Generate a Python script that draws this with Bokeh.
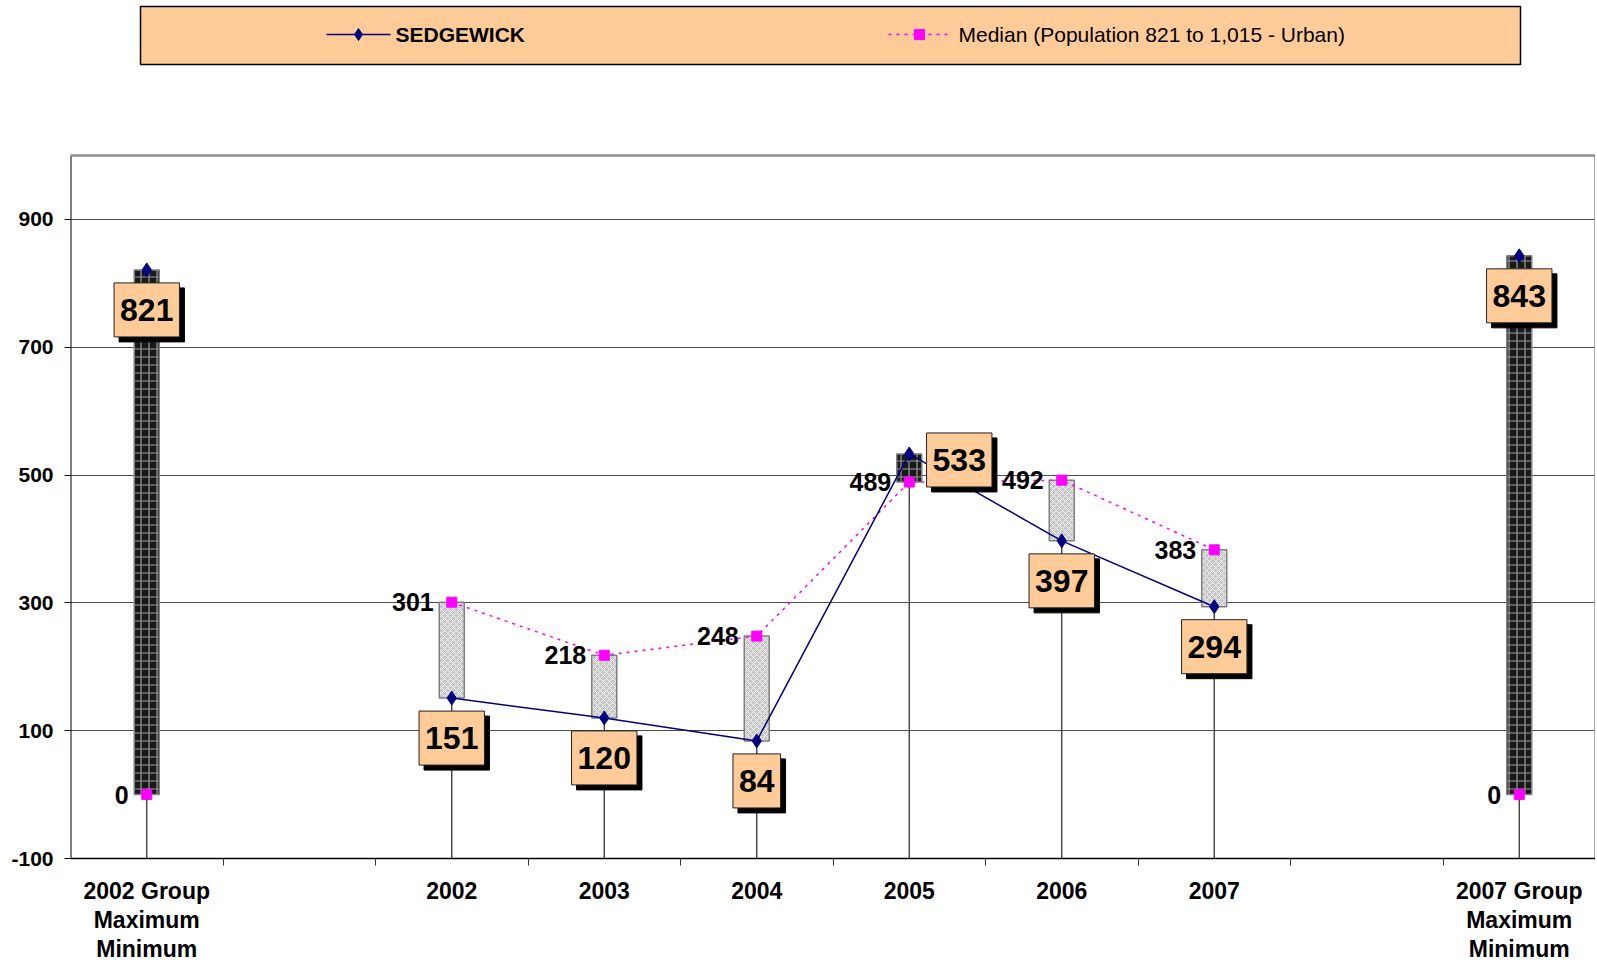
from bokeh.plotting import figure
from bokeh.models import FixedTicker, LinearAxis, Range1d, ColumnDataSource
from bokeh.core.properties import value
from bokeh.embed import file_html
from bokeh.resources import INLINE

# ---------------- data ----------------
categories = ["2002 Group\nMaximum\nMinimum", "", "2002", "2003", "2004", "2005",
              "2006", "2007", "", "2007 Group\nMaximum\nMinimum"]
sedgewick = [821, None, 151, 120, 84, 533, 397, 294, None, 843]
median = [0, None, 301, 218, 248, 489, 492, 383, None, 0]
y_ticks = [-100, 100, 300, 500, 700, 900]
legend_labels = ["SEDGEWICK", "Median (Population 821 to 1,015 - Urban)"]

# ---------------- style / layout ----------------
FONT = "Liberation Sans"
NAVY = "#000080"
MAGENTA = "#FF00FF"
ORANGE = "#FFCC99"
W, H = 1595, 966
BL, BB = 70, 108
Y0, YTOP_AXIS = -100, 1000
frame_h = H - BB
PX_PER_UNIT = (frame_h - 155) / (YTOP_AXIS - Y0)
y_top = Y0 + frame_h / PX_PER_UNIT
frame_w = W - BL
px_per_cat = frame_w / 10.0

xs = list(range(1, len(categories) + 1))
nan = float("nan")
s_vals = [nan if v is None else v for v in sedgewick]
m_vals = [nan if v is None else v for v in median]

p = figure(width=W, height=H, x_range=Range1d(0.5, 10.5), y_range=Range1d(Y0, y_top),
           output_backend="svg", toolbar_location=None, x_axis_location=None,
           min_border_left=BL, min_border_right=0, min_border_top=0, min_border_bottom=BB)
p.outline_line_color = None
p.background_fill_color = "white"
p.xgrid.visible = False

# y axis
yax = p.yaxis[0]
yax.ticker = FixedTicker(ticks=y_ticks, minor_ticks=[])
yax.axis_line_color = None
yax.major_tick_out = 6
yax.major_tick_in = 0
yax.major_tick_line_color = "black"
yax.major_label_text_font = FONT
yax.major_label_text_font_style = "bold"
yax.major_label_text_font_size = "21px"
yax.major_label_text_color = "black"
yax.major_label_standoff = 11
yax.major_label_overrides = {t: str(t) for t in y_ticks}
p.ygrid.ticker = FixedTicker(ticks=y_ticks)
p.ygrid.grid_line_color = "#4d4d4d"
p.ygrid.grid_line_width = 1

# bottom axis: labels at category centres, tick marks at category boundaries
xax = LinearAxis(ticker=FixedTicker(ticks=xs, minor_ticks=[i + 0.5 for i in xs[:-1]]),
                 major_tick_line_color=None, major_tick_out=0, major_tick_in=0,
                 minor_tick_line_color="#333333", minor_tick_out=7, minor_tick_in=0,
                 axis_line_color="black", axis_line_width=1.5,
                 major_label_text_font=FONT, major_label_text_font_style="bold",
                 major_label_text_font_size="23px", major_label_standoff=12,
                 major_label_text_color="black",
                 major_label_text_line_height=1.13)
xax.major_label_overrides = {x: c for x, c in zip(xs, categories)}
p.add_layout(xax, "below")

# frame borders
p.segment(x0=[0.5], y0=[Y0], x1=[0.5], y1=[YTOP_AXIS], line_color="black", line_width=2)
p.segment(x0=[0.5, 10.5], y0=[YTOP_AXIS, Y0], x1=[10.5, 10.5], y1=[YTOP_AXIS, YTOP_AXIS],
          line_color="#8c8c8c", line_width=2.5)

# drop lines
d_x, d_top = [], []
for x, s, m in zip(xs, sedgewick, median):
    if s is not None:
        d_x.append(x)
        d_top.append(max(s, m))
p.segment(x0=d_x, y0=[Y0] * len(d_x), x1=d_x, y1=d_top, line_color="#333333", line_width=1.3)

# up/down bars
dark = dict(x=[], top=[], bottom=[])
light = dict(x=[], top=[], bottom=[])
for x, s, m in zip(xs, sedgewick, median):
    if s is None:
        continue
    tgt = dark if s > m else light
    tgt["x"].append(x)
    tgt["top"].append(max(s, m))
    tgt["bottom"].append(min(s, m))
bw = 25 / px_per_cat
p.vbar(x="x", top="top", bottom="bottom", width=bw, source=ColumnDataSource(dark),
       fill_color="#1a1a1a", line_color="#808080", line_width=1.5,
       hatch_pattern="+", hatch_color="#9a9a9a", hatch_scale=8, hatch_weight=1.2)
p.vbar(x="x", top="top", bottom="bottom", width=bw, source=ColumnDataSource(light),
       fill_color="#c8c8c8", line_color="#808080", line_width=1.5,
       hatch_pattern="x", hatch_color="#f2f2f2", hatch_scale=6, hatch_weight=1)

# series lines and markers
p.line(xs, m_vals, line_color=MAGENTA, line_width=1.5, line_dash="3 5")
p.line(xs, s_vals, line_color=NAVY, line_width=1.5)
p.scatter(xs, m_vals, marker="square", size=10, fill_color=MAGENTA, line_color=MAGENTA)
p.scatter(xs, s_vals, marker="diamond", size=14, fill_color=NAVY, line_color=NAVY)

# median labels
ml_x = [x for x, m in zip(xs, median) if m is not None]
ml_y = [m for m in median if m is not None]
p.text(ml_x, ml_y, text=[str(m) for m in ml_y], text_font=value(FONT), text_font_style="bold",
       text_font_size="25px", text_align="right", text_baseline="middle", x_offset=-18,
       text_color="black")

# sedgewick labels (boxes with shadow)
sl_x = [x for x, s in zip(xs, sedgewick) if s is not None]
sl_y = [s for s in sedgewick if s is not None]
sl_xoff = [50 if s == 533 else 0 for s in sl_y]
sl_yoff = [6 if s == 533 else 40 for s in sl_y]
src = ColumnDataSource(dict(x=sl_x, y=sl_y, t=[str(s) for s in sl_y],
                            xo=sl_xoff, yo=sl_yoff,
                            xo2=[v + 5 for v in sl_xoff], yo2=[v + 5 for v in sl_yoff]))
pad = dict(left=6, right=6, top=16, bottom=16)
p.text(x="x", y="y", text="t", source=src, x_offset="xo2", y_offset="yo2",
       text_font=value(FONT), text_font_style="bold", text_font_size="32px",
       text_align="center", text_baseline="middle", text_color="black",
       background_fill_color="black", border_line_color="black", padding=pad)
p.text(x="x", y="y", text="t", source=src, x_offset="xo", y_offset="yo",
       text_font=value(FONT), text_font_style="bold", text_font_size="32px",
       text_align="center", text_baseline="middle", text_color="black",
       background_fill_color=ORANGE, border_line_color="#222222", border_line_width=1,
       padding=pad)

# legend box (drawn inside the canvas above the plot area)
def dx(px):
    return 0.5 + (px - BL) / px_per_cat

def dy(py):
    return YTOP_AXIS + (155 - py) / PX_PER_UNIT

p.quad(left=[dx(140)], right=[dx(1520)], top=[dy(6)], bottom=[dy(64)],
       fill_color=ORANGE, line_color="black", line_width=1.5)
ly = dy(34)
p.segment(x0=[dx(326)], y0=[ly], x1=[dx(390)], y1=[ly], line_color=NAVY, line_width=1.5)
p.scatter([dx(358)], [ly], marker="diamond", size=12, fill_color=NAVY, line_color=NAVY)
p.text([dx(395)], [ly], text=[legend_labels[0]], text_font=value(FONT), text_font_style="bold",
       text_font_size="21px", text_baseline="middle", text_align="left", text_color="black")
p.segment(x0=[dx(888)], y0=[ly], x1=[dx(950)], y1=[ly], line_color=MAGENTA, line_width=1.5,
          line_dash="3 5")
p.scatter([dx(919)], [ly], marker="square", size=10, fill_color=MAGENTA, line_color=MAGENTA)
p.text([dx(958)], [ly], text=[legend_labels[1]], text_font=value(FONT), text_font_style="normal",
       text_font_size="21px", text_baseline="middle", text_align="left", text_color="black")

open("out.html", "w").write(file_html(p, INLINE))
